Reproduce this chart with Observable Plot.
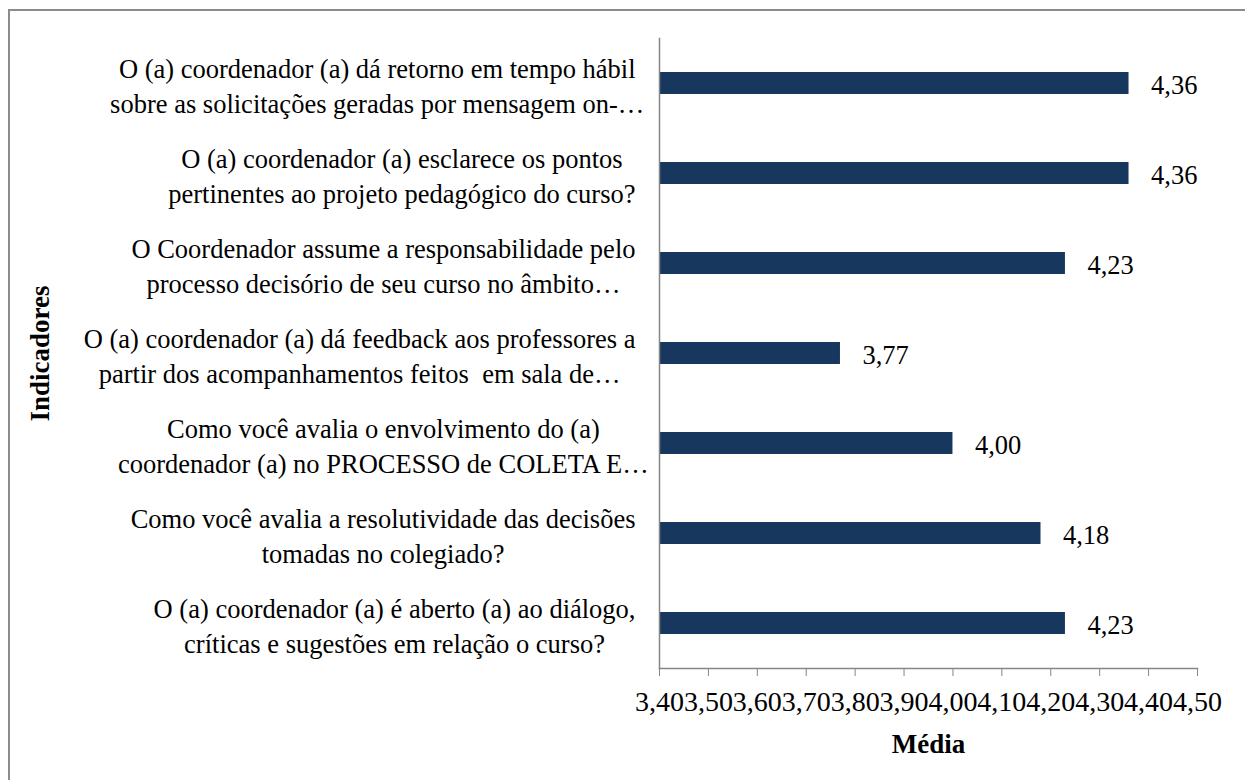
<!DOCTYPE html>
<html><head><meta charset="utf-8">
<script src="https://cdn.jsdelivr.net/npm/d3@7"></script>
<script src="https://cdn.jsdelivr.net/npm/@observablehq/plot@0.6"></script>
<style>
html,body{margin:0;padding:0;background:#fff;}
#wrap{position:relative;width:1245px;height:780px;overflow:hidden;background:#fff;}
#border{position:absolute;left:8px;top:9px;width:1300px;height:900px;border-left:2px solid #8c8c8c;border-top:2px solid #8c8c8c;}
#chart{position:absolute;left:0;top:0;}
</style></head><body>
<div id="wrap"><div id="border"></div><div id="chart"></div></div>
<script>
const categories = [
  "O (a) coordenador (a) dá retorno em tempo hábil\nsobre as solicitações geradas por mensagem on-…",
  "O (a) coordenador (a) esclarece os pontos\npertinentes ao projeto pedagógico do curso?",
  "O Coordenador assume a responsabilidade pelo\nprocesso decisório de seu curso no âmbito…",
  "O (a) coordenador (a) dá feedback aos professores a\npartir dos acompanhamentos feitos  em sala de…",
  "Como você avalia o envolvimento do (a)\ncoordenador (a) no PROCESSO de COLETA E…",
  "Como você avalia a resolutividade das decisões\ntomadas no colegiado?",
  "O (a) coordenador (a) é aberto (a) ao diálogo,\ncríticas e sugestões em relação o curso?"
];
const values = [4.36, 4.36, 4.23, 3.77, 4.00, 4.18, 4.23];
const xTicks = [3.40, 3.50, 3.60, 3.70, 3.80, 3.90, 4.00, 4.10, 4.20, 4.30, 4.40, 4.50];
const xLabel = "Média";
const yLabel = "Indicadores";

const data = categories.map((c, i) => ({category: c, value: values[i]}));
const fmt = v => v.toFixed(2).replace(".", ",");
const axisColor = "#868686";

const plot = Plot.plot({
  width: 1245, height: 780,
  marginLeft: 659, marginRight: 48, marginTop: 38, marginBottom: 112,
  style: {fontFamily: '"Liberation Serif","Times New Roman",serif', fontSize: "26.5px", color: "#000", background: "transparent", overflow: "visible"},
  x: {domain: [xTicks[0], xTicks[xTicks.length - 1]]},
  y: {domain: categories, paddingInner: 0.756, paddingOuter: 0.378},
  marks: [
    Plot.barX(data, {x1: () => xTicks[0], x2: "value", y: "category", fill: "#17375E"}),
    Plot.frame({anchor: "left", stroke: axisColor, strokeWidth: 1.5}),
    Plot.frame({anchor: "bottom", stroke: axisColor, strokeWidth: 1.5}),
    Plot.axisX({ticks: xTicks, tickFormat: fmt, tickSize: 8, tickPadding: 15, stroke: axisColor, label: null, fill: "#000", fontSize: 28}),
    Plot.axisY({tickSize: 0, tickPadding: 24, lineHeight: 1.32, label: null, dy: 1, fill: "#000"}),
    Plot.text(data, {x: "value", y: "category", text: d => fmt(d.value), dx: 22, dy: 2, textAnchor: "start", fill: "#000"}),
    Plot.text([xLabel], {frameAnchor: "bottom", dy: 76, lineAnchor: "middle", textAnchor: "middle", fontWeight: "bold", fill: "#000", fontSize: 27}),
    Plot.text([yLabel], {frameAnchor: "left", dx: -619, rotate: -90, textAnchor: "middle", lineAnchor: "middle", fontWeight: "bold", fill: "#000", fontSize: 27})
  ]
});
document.getElementById("chart").append(plot);

plot.querySelectorAll('g[aria-label="y-axis tick label"] text').forEach(t => {
  let w = 0;
  const spans = t.querySelectorAll("tspan");
  if (spans.length) {
    spans.forEach(ts => {
      const s = ts.textContent;
      const n = s.endsWith("…") ? s.length - 1 : s.length;
      w = Math.max(w, ts.getSubStringLength(0, n));
    });
  } else {
    w = t.getComputedTextLength();
  }
  t.setAttribute("text-anchor", "middle");
  const tr = t.getAttribute("transform") || "";
  t.setAttribute("transform", tr + ` translate(${-w / 2},0)`);
});
</script>
</body></html>
